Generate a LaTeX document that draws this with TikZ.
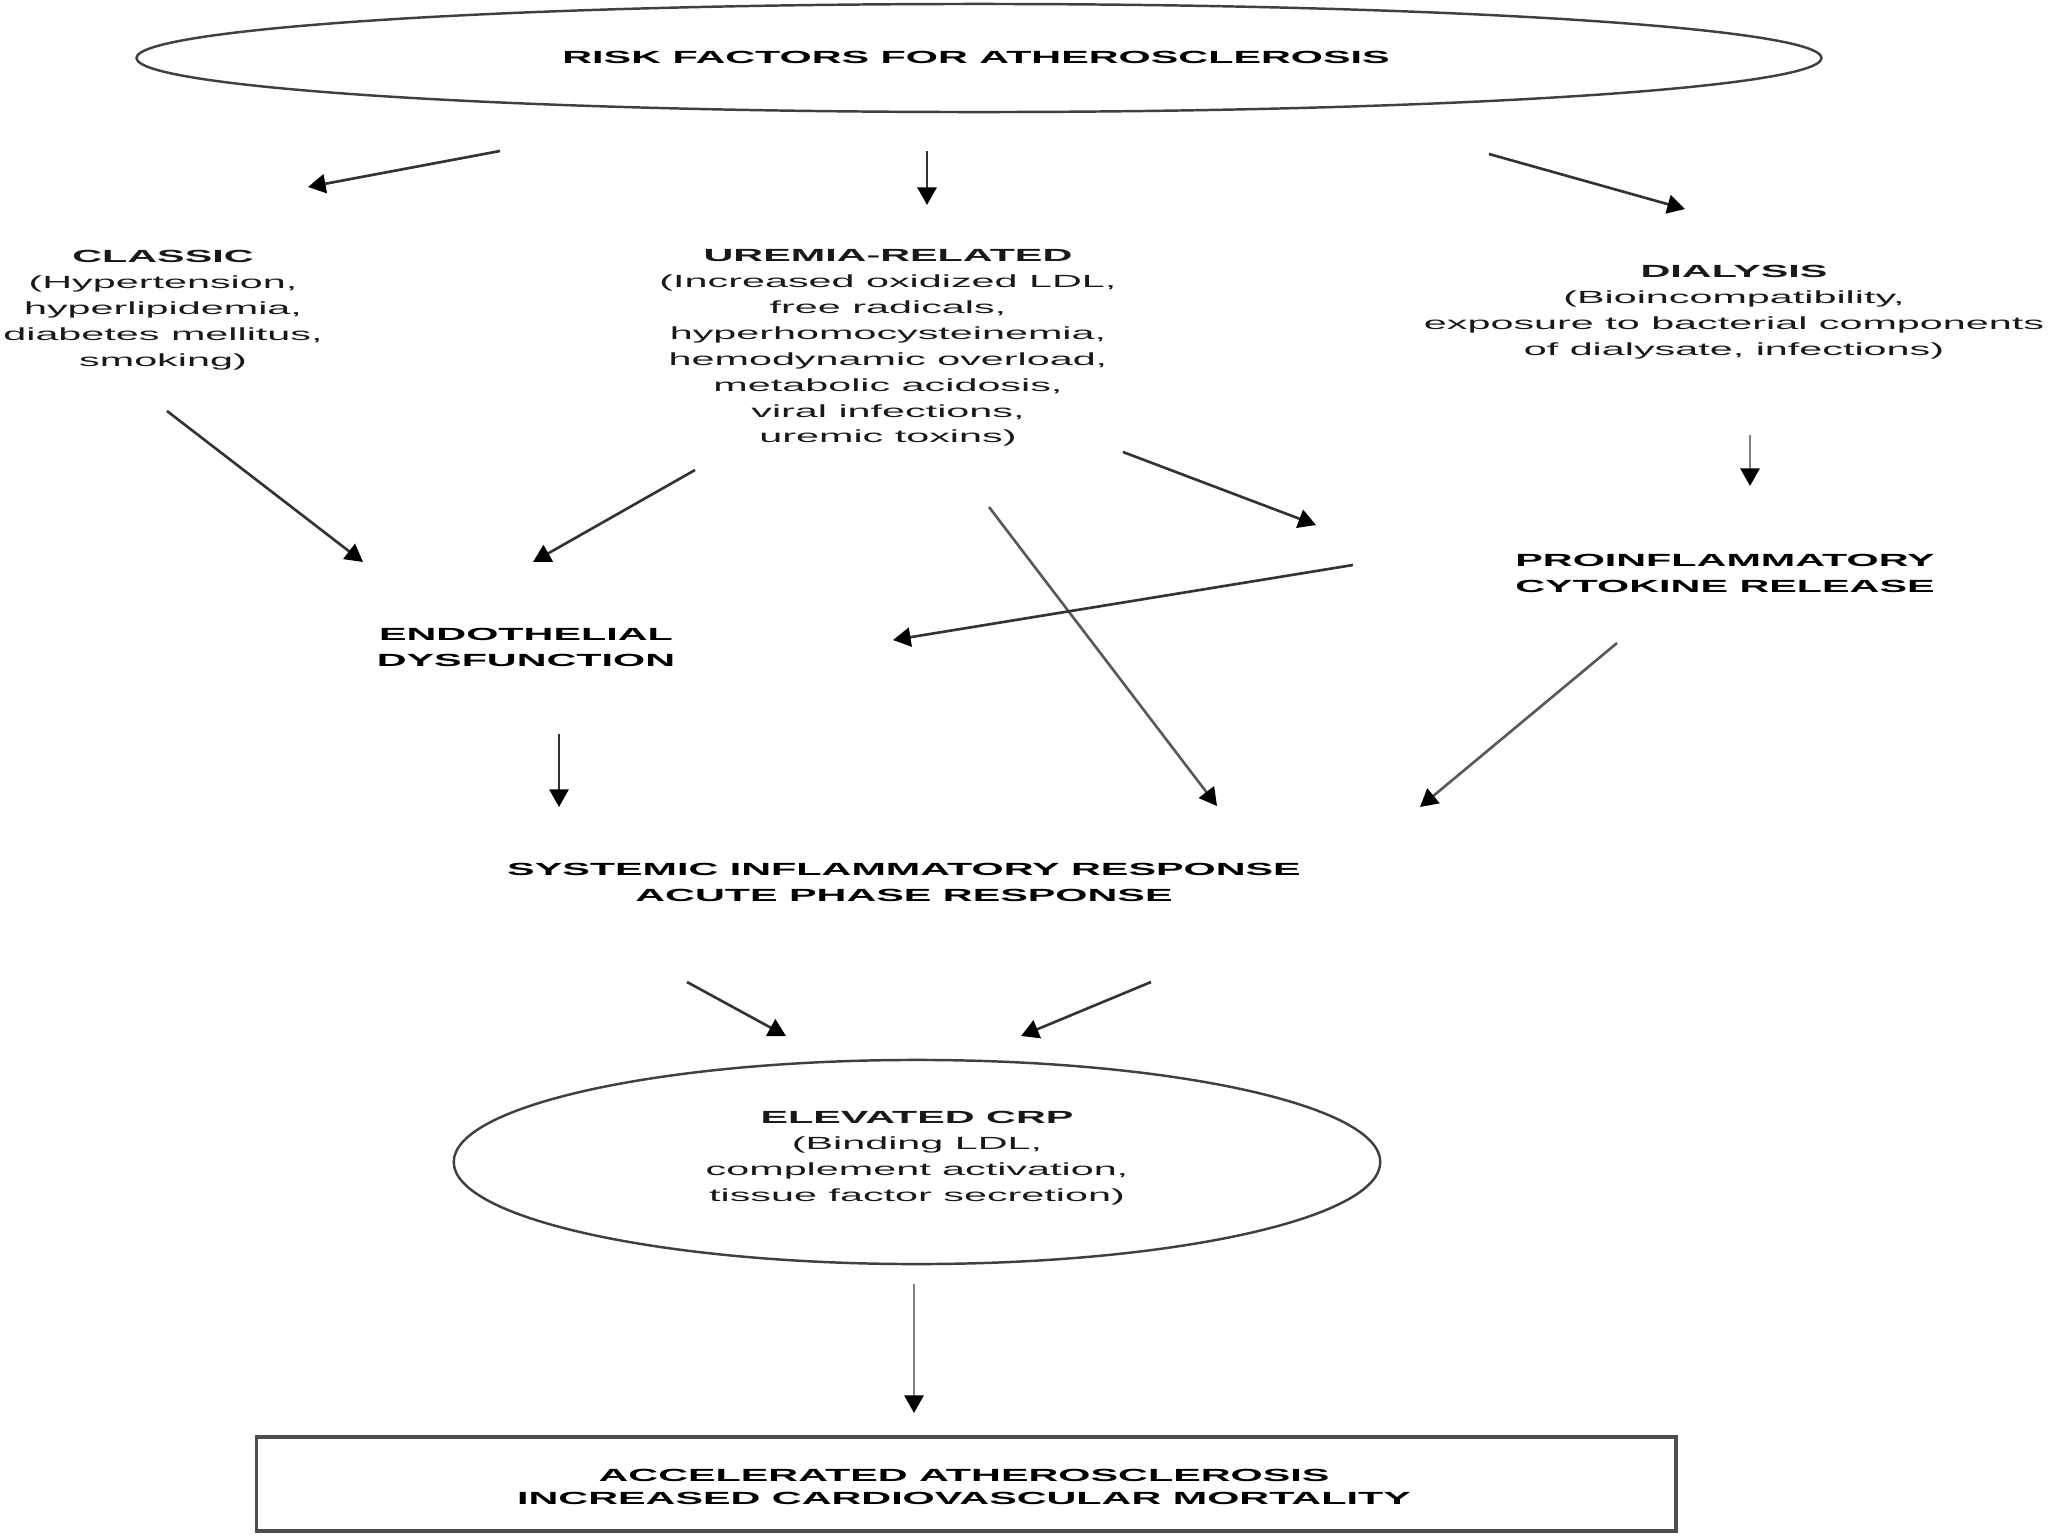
\documentclass[tikz,border=0pt]{standalone}
\usepackage{fontspec}
\setmainfont[FakeStretch=2.35]{Liberation Sans}
\usetikzlibrary{shapes.geometric,arrows.meta}
\begin{document}
\begin{tikzpicture}[x=0.01cm,y=-0.01cm,
  txt/.style={align=center, font=\fontsize{5}{7.37}\selectfont, inner sep=0pt, text=black!90},
  hd/.style={txt, font=\fontsize{5}{7.37}\selectfont\bfseries, text=black},
  conn/.style={line width=0.75pt, draw=black!80, -{Triangle[length=5pt,width=5.4pt,color=black]}},
  lconn/.style={conn, draw=black!50},
  ell/.style={ellipse, draw=black!75, line width=0.7pt, inner sep=0pt}]
\useasboundingbox (0,0) rectangle (2048,1536);

% nodes
\node[ell, minimum width=16.84cm, minimum height=1.08cm] (risk) at (979,58) {};
\node[hd] (risktxt) at (976,57) {RISK FACTORS FOR ATHEROSCLEROSIS};

\node[txt] (classic) at (163,310) {\textbf{CLASSIC}\\(Hypertension,\\hyperlipidemia,\\diabetes mellitus,\\smoking)};
\node[txt] (uremia) at (888,348) {\textbf{UREMIA-RELATED}\\(Increased oxidized LDL,\\free radicals,\\hyperhomocysteinemia,\\hemodynamic overload,\\metabolic acidosis,\\viral infections,\\uremic toxins)};
\node[txt] (dialysis) at (1734,312) {\textbf{DIALYSIS}\\(Bioincompatibility,\\exposure to bacterial components\\of dialysate, infections)};

\node[hd] (proinf) at (1725,573) {PROINFLAMMATORY\\CYTOKINE RELEASE};
\node[hd] (endo) at (526,647) {ENDOTHELIAL\\DYSFUNCTION};
\node[hd] (sys) at (904,882) {SYSTEMIC INFLAMMATORY RESPONSE\\ACUTE PHASE RESPONSE};

\node[ell, minimum width=9.26cm, minimum height=2.04cm] (crp) at (917,1162) {};
\node[txt] (crptxt) at (917,1158) {\textbf{ELEVATED CRP}\\(Binding LDL,\\complement activation,\\tissue factor secretion)};

\node[draw=black!70, line width=0.9pt, minimum width=14.19cm, minimum height=0.94cm, inner sep=0pt] (acc) at (966,1484) {};
\node[hd, font=\fontsize{5}{6.3}\selectfont\bfseries] (acctxt) at (964,1487) {ACCELERATED ATHEROSCLEROSIS\\INCREASED CARDIOVASCULAR MORTALITY};

% arrow end points
\coordinate (a1s) at (500,151);  \coordinate (a1e) at (308,187);
\coordinate (a2s) at (927,151);  \coordinate (a2e) at (927,205);
\coordinate (a3s) at (1489,154); \coordinate (a3e) at (1685,209);
\coordinate (a4s) at (167,411);  \coordinate (a4e) at (363,562);
\coordinate (a5s) at (695,470);  \coordinate (a5e) at (533,562);
\coordinate (a6s) at (1123,452); \coordinate (a6e) at (1316,525);
\coordinate (a7s) at (989,507);  \coordinate (a7e) at (1217,806);
\coordinate (a8s) at (1750,435); \coordinate (a8e) at (1750,486);
\coordinate (a9s) at (1353,565); \coordinate (a9e) at (893,640);
\coordinate (a10s) at (559,734); \coordinate (a10e) at (559,807);
\coordinate (a11s) at (1617,643);\coordinate (a11e) at (1420,807);
\coordinate (a12s) at (687,982); \coordinate (a12e) at (786,1036);
\coordinate (a13s) at (1151,982);\coordinate (a13e) at (1021,1036);
\coordinate (a14s) at (914,1284);\coordinate (a14e) at (914,1413);

\draw[conn] (a1s) -- (a1e);
\draw[conn] (a2s) -- (a2e);
\draw[conn] (a3s) -- (a3e);
\draw[conn] (a4s) -- (a4e);
\draw[conn] (a5s) -- (a5e);
\draw[conn] (a6s) -- (a6e);
\draw[conn, draw=black!65] (a7s) -- (a7e);
\draw[lconn] (a8s) -- (a8e);
\draw[conn] (a9s) -- (a9e);
\draw[conn] (a10s) -- (a10e);
\draw[conn, draw=black!65] (a11s) -- (a11e);
\draw[conn] (a12s) -- (a12e);
\draw[conn] (a13s) -- (a13e);
\draw[lconn] (a14s) -- (a14e);
\end{tikzpicture}
\end{document}
